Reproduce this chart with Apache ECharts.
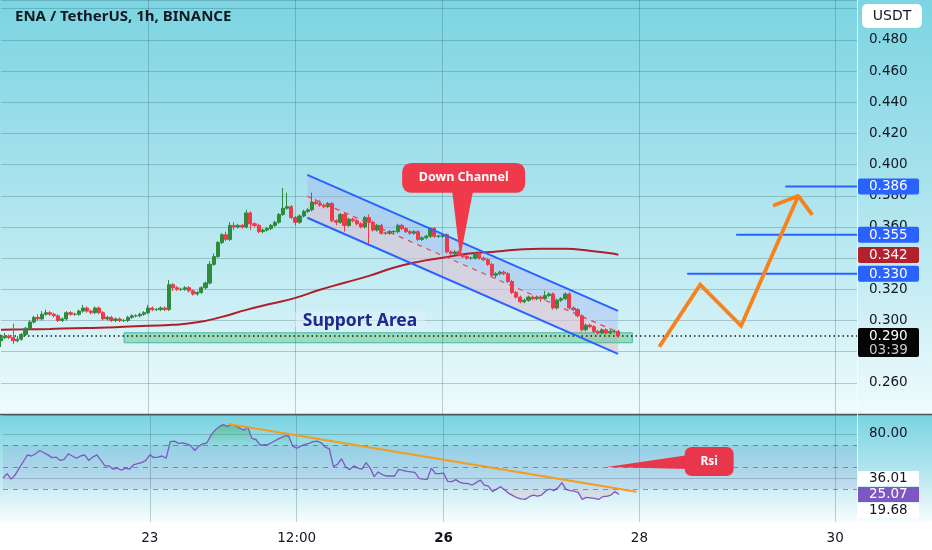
<!DOCTYPE html>
<html><head><meta charset="utf-8">
<script src="https://cdn.jsdelivr.net/npm/echarts@6/dist/echarts.min.js"></script>
<style>html,body{margin:0;padding:0;background:#fff}#c{width:932px;height:550px}</style>
</head><body><div id="c"></div>
<script>
// ---------------- DATA ----------------
const titleText = 'ENA / TetherUS, 1h, BINANCE';
const firstHour = -36;            // hours relative to day 23 00:00
const firstOpen = 0.287;
const closes = [
 0.289,0.290,0.289,0.287,0.288,0.291,0.295,0.299,0.302,0.301,
 0.304,0.305,0.304,0.303,0.300,0.301,0.305,0.304,0.304,0.306,
 0.308,0.306,0.305,0.308,0.305,0.301,0.302,0.300,0.301,0.300,
 0.300,0.302,0.303,0.303,0.304,0.305,0.308,0.307,0.307,0.308,
 0.307,0.323,0.321,0.320,0.320,0.321,0.319,0.317,0.318,0.321,
 0.324,0.336,0.341,0.350,0.355,0.352,0.361,0.360,0.361,0.360,
 0.369,0.362,0.361,0.357,0.358,0.359,0.361,0.363,0.368,0.372,
 0.373,0.366,0.363,0.367,0.370,0.371,0.376,0.375,0.374,0.373,
 0.375,0.364,0.363,0.368,0.361,0.365,0.364,0.362,0.360,0.366,
 0.363,0.358,0.361,0.356,0.356,0.357,0.357,0.361,0.359,0.357,
 0.356,0.357,0.352,0.353,0.354,0.359,0.354,0.354,0.355,0.344,
 0.343,0.344,0.342,0.341,0.340,0.340,0.343,0.340,0.339,0.336,
 0.329,0.330,0.331,0.330,0.325,0.318,0.315,0.312,0.313,0.315,
 0.314,0.315,0.314,0.316,0.317,0.308,0.313,0.314,0.317,0.308,
 0.307,0.303,0.294,0.297,0.296,0.293,0.292,0.294,0.292,0.293,
 0.293,0.290];
const highs = [
 0.291,0.292,0.291,0.298,0.290,0.292,0.296,0.300,0.303,0.304,
 0.306,0.307,0.306,0.305,0.304,0.302,0.306,0.306,0.305,0.307,
 0.310,0.309,0.307,0.309,0.309,0.306,0.303,0.303,0.302,0.302,
 0.301,0.303,0.304,0.304,0.305,0.306,0.310,0.309,0.308,0.309,
 0.309,0.326,0.324,0.322,0.321,0.322,0.322,0.320,0.319,0.322,
 0.325,0.338,0.343,0.351,0.356,0.357,0.363,0.363,0.362,0.362,
 0.371,0.370,0.363,0.362,0.359,0.360,0.362,0.364,0.369,0.385,
 0.382,0.374,0.367,0.368,0.371,0.372,0.382,0.378,0.377,0.375,
 0.376,0.376,0.365,0.369,0.369,0.366,0.366,0.365,0.363,0.367,
 0.368,0.364,0.362,0.362,0.357,0.358,0.358,0.362,0.362,0.360,
 0.358,0.358,0.358,0.354,0.355,0.360,0.360,0.355,0.356,0.356,
 0.345,0.345,0.345,0.343,0.342,0.341,0.344,0.344,0.341,0.340,
 0.337,0.331,0.332,0.332,0.331,0.326,0.319,0.316,0.314,0.316,
 0.316,0.316,0.316,0.319,0.318,0.318,0.314,0.315,0.318,0.318,
 0.309,0.308,0.304,0.298,0.298,0.297,0.294,0.295,0.295,0.294,
 0.294,0.294];
const lows = [
 0.283,0.288,0.288,0.285,0.286,0.287,0.290,0.294,0.298,0.300,
 0.300,0.303,0.303,0.302,0.299,0.299,0.300,0.303,0.303,0.303,
 0.305,0.305,0.304,0.304,0.304,0.300,0.300,0.299,0.299,0.299,
 0.299,0.299,0.301,0.302,0.302,0.303,0.304,0.306,0.306,0.306,
 0.306,0.306,0.319,0.319,0.319,0.319,0.318,0.316,0.316,0.317,
 0.320,0.323,0.335,0.340,0.349,0.351,0.351,0.358,0.359,0.359,
 0.359,0.358,0.360,0.356,0.356,0.357,0.358,0.360,0.362,0.367,
 0.371,0.365,0.361,0.362,0.366,0.369,0.370,0.374,0.373,0.372,
 0.372,0.363,0.361,0.362,0.357,0.360,0.363,0.361,0.359,0.359,
 0.348,0.357,0.357,0.355,0.355,0.355,0.356,0.356,0.358,0.356,
 0.355,0.355,0.351,0.351,0.352,0.353,0.353,0.353,0.353,0.343,
 0.342,0.342,0.341,0.340,0.339,0.339,0.339,0.339,0.338,0.335,
 0.328,0.327,0.329,0.329,0.324,0.317,0.314,0.311,0.311,0.312,
 0.313,0.313,0.312,0.313,0.315,0.307,0.307,0.312,0.313,0.307,
 0.306,0.302,0.293,0.293,0.295,0.292,0.291,0.291,0.291,0.291,
 0.292,0.289];
const maHours  = [-36,-30,-24,-18,-12,-6,0,6,12,18,24,30,36,42,48,54,60,66,72,78,84,90,96,102,108,114,115];
const maValues = [0.2941,0.2943,0.2946,0.2950,0.2953,0.2959,0.2966,0.2972,0.2988,0.3023,0.3068,0.3107,0.3145,
                  0.3197,0.3242,0.3286,0.3338,0.3376,0.3402,0.3428,0.3440,0.3453,0.3460,0.3460,0.3447,0.3428,0.3421];
const rsiValues = [
 40,44,39,43,49,55,61,60,62,65,
 63,61,58.5,59,56,57,62,60,58,60,
 61,56,59,61,56,51,51,48,49,47,
 49,48,52,53,54,56,61,58.5,59,60,
 58,73,73.6,71.5,72,71,69.5,65,69,71,
 72,79,83.6,86.7,88.5,87,88.8,87.5,85.5,83.5,
 86.5,76,75,70,70,70.6,72.5,74.5,76.5,78,
 78.5,69,67,69,70.5,71.5,73,73.6,72,68,
 66.4,50.3,52.5,57.5,50,47.6,51,49,48,54,
 49,41.2,45.5,43,41.8,41.8,41.8,47.9,47,46,
 45.5,45,39.7,39,38.8,49,44,44,44.5,37,
 36.7,38.5,36,35.2,35,33.6,35.8,38.2,33.6,32.7,
 27.6,30,32.1,29.1,26,24,22,21,20.6,23,
 24.5,23.6,24.5,28,30,28.5,31,35.8,29.7,28.5,
 28,27,20.6,22.4,22,21.5,20.5,23,23.4,24.5,
 27.6,25.07];
const xTickHours  = [0, 36, 72, 120, 168];
const xTickLabels = ['23', '12:00', '26', '28', '30'];
const rsiLevels = [70, 50, 30];
const rsiTagValues = [36.01, 25.07, 19.68];
const maLast = 0.342;
const lastPrice = 0.290;
const countdown = '03:39';
const targetLevels = [0.386, 0.355, 0.330];
const targetStartHours = [155.8, 143.8, 131.8];
const zigzagHours  = [125.0, 135.0, 145.0, 159.0];
const zigzagPrices = [0.2831, 0.3229, 0.2966, 0.3800];
const arrowHours  = [152.8, 159.0, 162.4];
const arrowPrices = [0.3736, 0.3800, 0.3678];
const channelHours = [38.9, 114.9];
const channelUpper = [0.3934, 0.3062];
const channelLower = [0.3659, 0.2786];
const supportHours  = [-5.9, 118.4];
const supportPrices = [0.2857, 0.2921];
const rsiTrendHours  = [19.3, 119.3];
const rsiTrendValues = [89.1, 27.5];
// annotation anchors (data space)
const downBoxHours = [62.1, 92.2], downBoxPrices = [0.4011, 0.3819], downTip = [76.3, 0.3402], downBaseHours = [74.3, 79.5];
const supportLabelHours = [35.9, 67.7], supportLabelPrices = [0.3057, 0.2953];
const rsiBoxHours = [131.1, 143.1], rsiBoxValues = [68.2, 41.8], rsiTip = [112.0, 50], rsiBaseValues = [60.9, 48.2];

// ---------------- LAYOUT ----------------
const PX_PER_H = 4.089, GRID_LEFT = 1, GRID_W = 856;
const X_MIN = -36, X_MAX = X_MIN + GRID_W / PX_PER_H;
const FONT = 'DejaVu Sans';
const GRIDC = 'rgba(60,95,105,0.30)';
const GREEN = '#2f8a3c', RED = '#ef3a4a';

const hours = closes.map((c, i) => firstHour + i);
const candles = closes.map((c, i) => [hours[i], i ? closes[i - 1] : firstOpen, c, lows[i], highs[i]]);
const channelMid = channelUpper.map((u, i) => (u + channelLower[i]) / 2);

const chart = echarts.init(document.getElementById('c'), null, {renderer: 'canvas', width: 932, height: 550});

function lg(stops) { return new echarts.graphic.LinearGradient(0, 0, 0, 1, stops.map(s => ({offset: s[0], color: s[1]}))); }

function priceTags(params, api) {
  const xr = api.coord([X_MAX, lastPrice])[0];
  const kids = [];
  const tag = (v, bg, fg, txt) => {
    const y = api.coord([X_MAX, v])[1];
    kids.push({type: 'rect', shape: {x: xr + 1, y: y - 8, width: 61, height: 16, r: 2}, style: {fill: bg}});
    kids.push({type: 'text', style: {text: txt, x: xr + 12, y: y + 0.5, verticalAlign: 'middle', fill: fg, font: '13.5px "' + FONT + '"'}});
  };
  targetLevels.forEach(v => tag(v, '#2962ff', '#ffffff', v.toFixed(3)));
  tag(maLast, '#b3222c', '#ffffff', maLast.toFixed(3));
  const y = api.coord([X_MAX, lastPrice])[1];
  kids.push({type: 'rect', shape: {x: xr + 1, y: y - 8, width: 61, height: 29, r: 2}, style: {fill: '#050505'}});
  kids.push({type: 'text', style: {text: lastPrice.toFixed(3), x: xr + 12, y: y + 0.5, verticalAlign: 'middle', fill: '#ffffff', font: '13.5px "' + FONT + '"'}});
  kids.push({type: 'text', style: {text: countdown, x: xr + 12, y: y + 14, verticalAlign: 'middle', fill: '#c9cdd1', font: '13.5px "' + FONT + '"'}});
  return {type: 'group', children: kids};
}

function rsiTags(params, api) {
  const xr = api.coord([X_MAX, 0])[0];
  const mainV = rsiValues[rsiValues.length - 1];
  const mainY = api.coord([X_MAX, mainV])[1];
  const kids = [];
  rsiTagValues.forEach(v => {
    let y = api.coord([X_MAX, v])[1];
    const isMain = Math.abs(v - mainV) < 1e-6;
    if (!isMain) y = v > mainV ? Math.min(y, mainY - 16) : Math.max(y, mainY + 16);
    kids.push({type: 'rect', shape: {x: xr + 1, y: y - 7.5, width: 61, height: 15}, style: {fill: isMain ? '#7e57c2' : '#ffffff'}});
    kids.push({type: 'text', style: {text: v.toFixed(2), x: xr + 12, y: y + 0.5, verticalAlign: 'middle', fill: isMain ? '#ffffff' : '#131722', font: '13.5px "' + FONT + '"'}});
  });
  return {type: 'group', children: kids};
}

function overlayMain(params, api) {
  const u0 = api.coord([channelHours[0], channelUpper[0]]), u1 = api.coord([channelHours[1], channelUpper[1]]);
  const m0 = api.coord([channelHours[0], channelMid[0]]), m1 = api.coord([channelHours[1], channelMid[1]]);
  const l0 = api.coord([channelHours[0], channelLower[0]]), l1 = api.coord([channelHours[1], channelLower[1]]);
  const s0 = api.coord([supportHours[0], supportPrices[1]]), s1 = api.coord([supportHours[1], supportPrices[0]]);
  return {type: 'group', children: [
    {type: 'polygon', shape: {points: [u0, u1, m1, m0]}, style: {fill: 'rgba(165,180,240,0.42)'}},
    {type: 'polygon', shape: {points: [m0, m1, l1, l0]}, style: {fill: 'rgba(222,196,212,0.62)'}},
    {type: 'rect', shape: {x: s0[0], y: s0[1], width: s1[0] - s0[0], height: s1[1] - s0[1]}, style: {fill: 'rgba(80,196,118,0.45)', stroke: 'rgba(40,165,150,0.75)', lineWidth: 1}}
  ]};
}

function calloutsMain(params, api) {
  const a = api.coord([downBoxHours[0], downBoxPrices[0]]), b = api.coord([downBoxHours[1], downBoxPrices[1]]);
  const tip = api.coord(downTip);
  const bl = api.coord([downBaseHours[0], downBoxPrices[1]]), br = api.coord([downBaseHours[1], downBoxPrices[1]]);
  const sa = api.coord([supportLabelHours[0], supportLabelPrices[0]]), sb = api.coord([supportLabelHours[1], supportLabelPrices[1]]);
  return {type: 'group', children: [
    {type: 'rect', shape: {x: sa[0], y: sa[1], width: sb[0] - sa[0], height: sb[1] - sa[1], r: 2}, style: {fill: 'rgba(225,240,250,0.55)'}},
    {type: 'text', style: {text: 'Support Area', x: (sa[0] + sb[0]) / 2, y: (sa[1] + sb[1]) / 2 + 1, align: 'center', verticalAlign: 'middle', fill: '#1b2c8f', font: 'bold 17.5px "Noto Sans"'}},
    {type: 'polygon', shape: {points: [[bl[0], bl[1] - 3], [br[0], br[1] - 3], tip]}, style: {fill: '#f03a4b'}},
    {type: 'rect', shape: {x: a[0], y: a[1], width: b[0] - a[0], height: b[1] - a[1], r: 9}, style: {fill: '#f03a4b'}},
    {type: 'text', style: {text: 'Down Channel', x: (a[0] + b[0]) / 2, y: (a[1] + b[1]) / 2, align: 'center', verticalAlign: 'middle', fill: '#ffffff', font: 'bold 12.5px "Noto Sans"'}}
  ]};
}

function calloutRsi(params, api) {
  const a = api.coord([rsiBoxHours[0], rsiBoxValues[0]]), b = api.coord([rsiBoxHours[1], rsiBoxValues[1]]);
  const tip = api.coord(rsiTip);
  const p1 = api.coord([rsiBoxHours[0] + 1, rsiBaseValues[0]]), p2 = api.coord([rsiBoxHours[0] + 1, rsiBaseValues[1]]);
  return {type: 'group', children: [
    {type: 'polygon', shape: {points: [p1, p2, tip]}, style: {fill: '#e8364c'}},
    {type: 'rect', shape: {x: a[0], y: a[1], width: b[0] - a[0], height: b[1] - a[1], r: 7}, style: {fill: '#e8364c'}},
    {type: 'text', style: {text: 'Rsi', x: (a[0] + b[0]) / 2, y: (a[1] + b[1]) / 2, align: 'center', verticalAlign: 'middle', fill: '#ffffff', font: 'bold 12px "Noto Sans"'}}
  ]};
}

const xLabelMap = {};
xTickHours.forEach((h, i) => xLabelMap[h] = xTickLabels[i]);

const option = {
  animation: false,
  textStyle: {fontFamily: FONT},
  title: {text: titleText, left: 10, top: 4, textStyle: {fontFamily: 'Noto Sans', fontWeight: 'bold', fontSize: 15, color: '#131722'}},
  graphic: {elements: [
    {type: 'rect', z: -10, shape: {x: 0, y: 0, width: 932, height: 414}, style: {fill: lg([[0, '#7bd5e2'], [0.35, '#9edfea'], [0.7, '#c6edf4'], [1, '#f0fbfc']])}, silent: true},
    {type: 'rect', z: -10, shape: {x: 0, y: 415, width: 932, height: 107}, style: {fill: lg([[0, '#79d4e1'], [0.5, '#b0e4ee'], [1, '#f7fdfe']])}, silent: true},
    {type: 'line', z: 50, shape: {x1: 0, y1: 414.5, x2: 932, y2: 414.5}, style: {stroke: '#4a585e', lineWidth: 1.6}, silent: true},
    {type: 'line', z: 50, shape: {x1: 857.5, y1: 0, x2: 857.5, y2: 522}, style: {stroke: 'rgba(255,255,255,0.75)', lineWidth: 1}, silent: true},
    {type: 'rect', z: 50, shape: {x: 862, y: 4, width: 60, height: 24, r: 5}, style: {fill: '#ffffff'}, silent: true},
    {type: 'text', z: 51, style: {text: 'USDT', x: 892, y: 16.5, align: 'center', verticalAlign: 'middle', fill: '#131722', font: '14px "' + FONT + '"'}, silent: true}
  ]},
  grid: [
    {left: GRID_LEFT, top: 0, width: GRID_W, height: 414},
    {left: GRID_LEFT, top: 415, width: GRID_W, height: 107}
  ],
  xAxis: [
    {type: 'value', gridIndex: 0, min: X_MIN, max: X_MAX, interval: 12, axisLine: {show: false}, axisTick: {show: false}, axisLabel: {show: false}, splitLine: {show: false}},
    {type: 'value', gridIndex: 1, min: X_MIN, max: X_MAX, interval: 12, axisLine: {show: false}, axisTick: {show: false}, splitLine: {show: false},
     axisLabel: {show: true, margin: 9, fontSize: 13.5, color: '#131722', fontFamily: FONT, showMinLabel: true, showMaxLabel: false,
       formatter: v => { const t = xLabelMap[Math.round(v)]; if (t === undefined) return ''; return t === '26' ? '{b|' + t + '}' : t; },
       rich: {b: {fontWeight: 'bold', fontSize: 13.5, color: '#131722', fontFamily: FONT}}}}
  ],
  yAxis: [
    {type: 'value', gridIndex: 0, position: 'right', min: 0.24, max: 0.5056, interval: 0.02,
     axisLine: {show: false}, axisTick: {show: false},
     splitLine: {show: true, lineStyle: {color: GRIDC, width: 1}},
     axisLabel: {margin: 12, fontSize: 13.5, color: '#131722', fontFamily: FONT, formatter: v => (v < 0.25 || v > 0.49) ? '' : v.toFixed(3)}},
    {type: 'value', gridIndex: 1, position: 'right', min: 0, max: 97.27, interval: 40,
     axisLine: {show: false}, axisTick: {show: false},
     splitLine: {show: true, showMinLine: false, lineStyle: {color: GRIDC, width: 1}},
     axisLabel: {margin: 12, fontSize: 13.5, color: '#131722', fontFamily: FONT, formatter: v => Math.round(v) === 80 ? '80.00' : ''}}
  ],
  series: [
    // vertical grid lines (main pane)
    {type: 'line', xAxisIndex: 0, yAxisIndex: 0, data: [[X_MIN, 0.3]], symbol: 'none', lineStyle: {opacity: 0}, z: 1, silent: true,
     markLine: {symbol: ['none', 'none'], silent: true, label: {show: false}, lineStyle: {color: GRIDC, width: 1, type: 'solid'},
       data: xTickHours.map(h => ({xAxis: h}))}},
    // channel fill + support band
    {type: 'custom', xAxisIndex: 0, yAxisIndex: 0, data: [[X_MIN, 0.3]], renderItem: overlayMain, z: 2, silent: true, clip: false},
    // moving average
    {type: 'line', xAxisIndex: 0, yAxisIndex: 0, data: maHours.map((h, i) => [h, maValues[i]]), smooth: true, symbol: 'none',
     lineStyle: {color: '#b01e2a', width: 2}, z: 3, silent: true},
    // current price dotted line
    {type: 'line', xAxisIndex: 0, yAxisIndex: 0, data: [[X_MIN, lastPrice], [X_MAX, lastPrice]], symbol: 'none',
     lineStyle: {color: '#1a1a1a', width: 1.5, type: [1.5, 3]}, z: 3, silent: true},
    // candles
    {type: 'candlestick', xAxisIndex: 0, yAxisIndex: 0, data: candles, encode: {x: 0, y: [1, 2, 3, 4]}, barWidth: 3.6, z: 4, silent: true,
     itemStyle: {color: GREEN, color0: RED, borderColor: GREEN, borderColor0: RED, borderWidth: 1}},
    // channel lines
    {type: 'line', xAxisIndex: 0, yAxisIndex: 0, data: channelHours.map((h, i) => [h, channelUpper[i]]), symbol: 'none', lineStyle: {color: '#2962ff', width: 2}, z: 5, silent: true},
    {type: 'line', xAxisIndex: 0, yAxisIndex: 0, data: channelHours.map((h, i) => [h, channelLower[i]]), symbol: 'none', lineStyle: {color: '#2962ff', width: 2}, z: 5, silent: true},
    {type: 'line', xAxisIndex: 0, yAxisIndex: 0, data: channelHours.map((h, i) => [h, channelMid[i]]), symbol: 'none', lineStyle: {color: '#e8404e', width: 1.2, type: [5, 5]}, z: 5, silent: true},
    // target lines
    ...targetLevels.map((v, i) => ({type: 'line', xAxisIndex: 0, yAxisIndex: 0, data: [[targetStartHours[i], v], [X_MAX, v]], symbol: 'none',
      lineStyle: {color: '#2962ff', width: 2}, z: 5, silent: true})),
    // projected zigzag
    {type: 'line', xAxisIndex: 0, yAxisIndex: 0, data: zigzagHours.map((h, i) => [h, zigzagPrices[i]]), symbol: 'none', lineStyle: {color: '#f7821b', width: 3.8, join: 'miter'}, z: 6, silent: true},
    {type: 'line', xAxisIndex: 0, yAxisIndex: 0, data: arrowHours.map((h, i) => [h, arrowPrices[i]]), symbol: 'none', lineStyle: {color: '#f7821b', width: 3.8}, z: 6, silent: true},
    // callouts
    {type: 'custom', xAxisIndex: 0, yAxisIndex: 0, data: [[X_MIN, 0.3]], renderItem: calloutsMain, z: 7, silent: true, clip: false},
    // price tags
    {type: 'custom', xAxisIndex: 0, yAxisIndex: 0, data: [[X_MIN, 0.3]], renderItem: priceTags, z: 8, silent: true, clip: false},

    // ---- RSI pane ----
    {type: 'line', xAxisIndex: 1, yAxisIndex: 1, data: [[X_MIN, 50]], symbol: 'none', lineStyle: {opacity: 0}, z: 1, silent: true,
     markArea: {silent: true, itemStyle: {color: 'rgba(126,87,194,0.10)'}, data: [[{yAxis: 30}, {yAxis: 70}]]},
     markLine: {symbol: ['none', 'none'], silent: true, label: {show: false}, lineStyle: {color: GRIDC, width: 1, type: 'solid'},
       data: xTickHours.map(h => ({xAxis: h})).concat(rsiLevels.map(v => ({yAxis: v, lineStyle: {color: 'rgba(70,80,95,0.55)', type: [5, 5], width: 1}})))}},
    {type: 'line', xAxisIndex: 1, yAxisIndex: 1, data: rsiValues.map((v, i) => [hours[i], Math.max(v, 70)]), symbol: 'none', lineStyle: {opacity: 0}, z: 2, silent: true,
     areaStyle: {origin: 70, color: lg([[0, 'rgba(60,175,90,0.75)'], [1, 'rgba(60,175,90,0.05)']])}},
    {type: 'line', xAxisIndex: 1, yAxisIndex: 1, data: rsiValues.map((v, i) => [hours[i], Math.min(v, 30)]), symbol: 'none', lineStyle: {opacity: 0}, z: 2, silent: true,
     areaStyle: {origin: 30, color: 'rgba(242,54,69,0.14)'}},
    {type: 'line', xAxisIndex: 1, yAxisIndex: 1, data: rsiValues.map((v, i) => [hours[i], v]), symbol: 'none', lineStyle: {color: '#7e57c2', width: 1.3}, z: 4, silent: true},
    {type: 'line', xAxisIndex: 1, yAxisIndex: 1, data: rsiTrendHours.map((h, i) => [h, rsiTrendValues[i]]), symbol: 'none', lineStyle: {color: '#f39c1e', width: 2}, z: 5, silent: true},
    {type: 'custom', xAxisIndex: 1, yAxisIndex: 1, data: [[X_MIN, 50]], renderItem: calloutRsi, z: 7, silent: true, clip: false},
    {type: 'custom', xAxisIndex: 1, yAxisIndex: 1, data: [[X_MIN, 50]], renderItem: rsiTags, z: 8, silent: true, clip: false}
  ]
};
chart.setOption(option);
</script>
</body></html>
